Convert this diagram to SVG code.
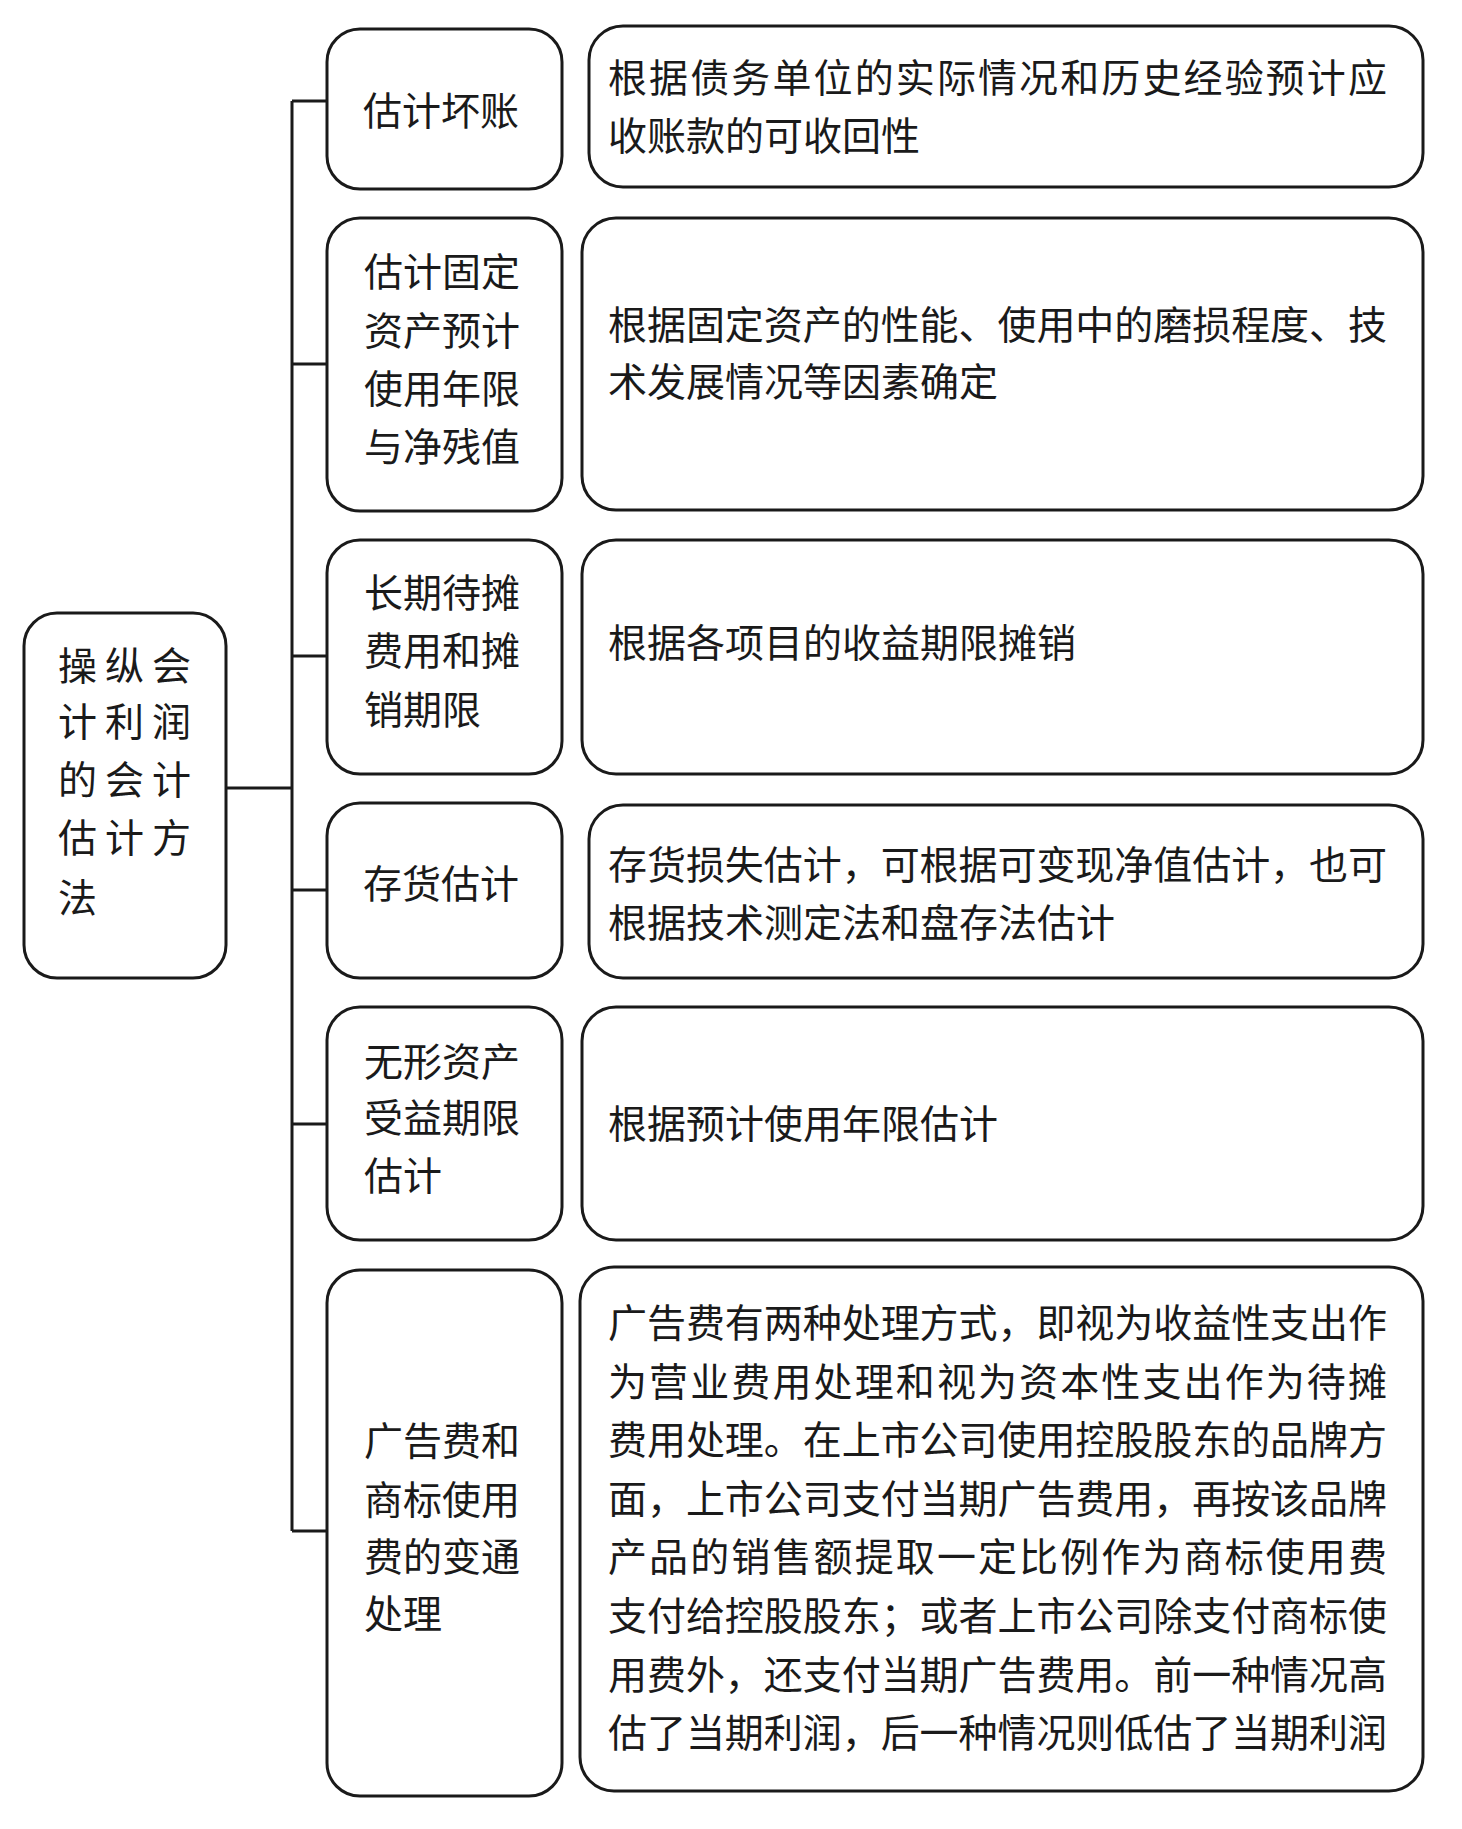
<svg xmlns="http://www.w3.org/2000/svg" width="1462" height="1829" viewBox="0 0 1462 1829">
<style>
.box{fill:#fff;stroke:#1a1a1a;stroke-width:3}
.con{fill:none;stroke:#1a1a1a;stroke-width:3}
text{font-family:"Noto Sans CJK SC","Noto Sans",sans-serif;font-size:39px;fill:#1a1a1a;dominant-baseline:central}
.c{letter-spacing:8px}
</style>
<rect width="1462" height="1829" fill="#fff"/>
<g id="connectors">
<path class="con" d="M226,788 H292 M292,101 V1531 M292,101 H327 M292,364 H327 M292,656 H327 M292,890 H327 M292,1124 H327 M292,1531 H327"/>
</g>
<g id="root">
<rect class="box" x="24" y="613" width="202" height="365" rx="33"/>
<text class="c" x="58" y="663">操纵会</text>
<text class="c" x="58" y="719">计利润</text>
<text class="c" x="58" y="777">的会计</text>
<text class="c" x="58" y="835">估计方</text>
<text class="c" x="58" y="895">法</text>
</g>
<g id="n1">
<rect class="box" x="327" y="29" width="235" height="160" rx="33"/>
<text x="363" y="108">估计坏账</text>
</g>
<g id="n2">
<rect class="box" x="327" y="218" width="235" height="293" rx="33"/>
<text x="364" y="269">估计固定</text>
<text x="364" y="328">资产预计</text>
<text x="364" y="386">使用年限</text>
<text x="364" y="444">与净残值</text>
</g>
<g id="n3">
<rect class="box" x="327" y="540" width="235" height="234" rx="33"/>
<text x="364" y="590">长期待摊</text>
<text x="364" y="648">费用和摊</text>
<text x="364" y="707">销期限</text>
</g>
<g id="n4">
<rect class="box" x="327" y="803" width="235" height="175" rx="33"/>
<text x="363" y="881">存货估计</text>
</g>
<g id="n5">
<rect class="box" x="327" y="1007" width="235" height="233" rx="33"/>
<text x="364" y="1059">无形资产</text>
<text x="364" y="1115">受益期限</text>
<text x="364" y="1173">估计</text>
</g>
<g id="n6">
<rect class="box" x="327" y="1270" width="235" height="526" rx="33"/>
<text x="364" y="1438">广告费和</text>
<text x="364" y="1497">商标使用</text>
<text x="364" y="1554">费的变通</text>
<text x="364" y="1611">处理</text>
</g>
<g id="d1">
<rect class="box" x="589" y="26" width="834" height="161" rx="34"/>
<text x="608" y="75" textLength="779" lengthAdjust="spacing">根据债务单位的实际情况和历史经验预计应</text>
<text x="608" y="133">收账款的可收回性</text>
</g>
<g id="d2">
<rect class="box" x="582" y="218" width="841" height="292" rx="34"/>
<text x="608" y="322" textLength="779" lengthAdjust="spacing">根据固定资产的性能、使用中的磨损程度、技</text>
<text x="608" y="379">术发展情况等因素确定</text>
</g>
<g id="d3">
<rect class="box" x="582" y="540" width="841" height="234" rx="34"/>
<text x="608" y="640">根据各项目的收益期限摊销</text>
</g>
<g id="d4">
<rect class="box" x="589" y="805" width="834" height="173" rx="34"/>
<text x="608" y="862" textLength="779" lengthAdjust="spacing">存货损失估计，可根据可变现净值估计，也可</text>
<text x="608" y="920">根据技术测定法和盘存法估计</text>
</g>
<g id="d5">
<rect class="box" x="582" y="1007" width="841" height="233" rx="34"/>
<text x="608" y="1121">根据预计使用年限估计</text>
</g>
<g id="d6">
<rect class="box" x="580" y="1267" width="843" height="524" rx="34"/>
<text x="608" y="1320" textLength="779" lengthAdjust="spacing">广告费有两种处理方式，即视为收益性支出作</text>
<text x="608" y="1379" textLength="779" lengthAdjust="spacing">为营业费用处理和视为资本性支出作为待摊</text>
<text x="608" y="1437" textLength="779" lengthAdjust="spacing">费用处理。在上市公司使用控股股东的品牌方</text>
<text x="608" y="1496" textLength="779" lengthAdjust="spacing">面，上市公司支付当期广告费用，再按该品牌</text>
<text x="608" y="1554" textLength="779" lengthAdjust="spacing">产品的销售额提取一定比例作为商标使用费</text>
<text x="608" y="1613" textLength="779" lengthAdjust="spacing">支付给控股股东；或者上市公司除支付商标使</text>
<text x="608" y="1672" textLength="779" lengthAdjust="spacing">用费外，还支付当期广告费用。前一种情况高</text>
<text x="608" y="1730" textLength="779" lengthAdjust="spacing">估了当期利润，后一种情况则低估了当期利润</text>
</g>
</svg>
